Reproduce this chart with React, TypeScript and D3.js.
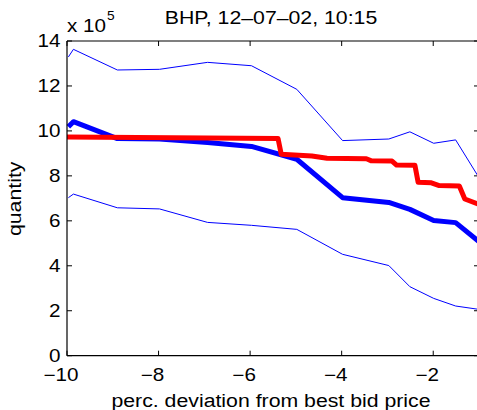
import React from "react";
import * as d3 from "d3";

// Order-book depth profile: quantity vs. percentage deviation from best bid
const devX = [-9.97, -9.86, -8.9, -7.98, -6.93, -5.97, -4.98, -3.98, -2.97, -2.51, -1.99, -1.51, -1.0];
const meanQty = [10.18, 10.41, 9.66, 9.64, 9.48, 9.31, 8.74, 7.03, 6.82, 6.51, 6.01, 5.92, 5.07];
const upperQty = [13.29, 13.63, 12.71, 12.74, 13.05, 12.9, 11.85, 9.57, 9.64, 9.96, 9.45, 9.6, 7.92];
const lowerQty = [7.03, 7.19, 6.58, 6.53, 5.93, 5.8, 5.62, 4.51, 4.01, 3.07, 2.55, 2.21, 2.06];

const snapX = [-10.0, -5.39, -5.32, -4.65, -4.32, -3.46, -3.35, -2.9, -2.8, -2.4, -2.33, -2.04, -1.87, -1.43, -1.31, -1.0];
const snapQty = [9.73, 9.66, 8.96, 8.88, 8.78, 8.76, 8.67, 8.66, 8.48, 8.47, 7.72, 7.69, 7.57, 7.55, 6.97, 6.73];

const xTicks = [-10, -8, -6, -4, -2];
const yTicks = [0, 2, 4, 6, 8, 10, 12, 14];

const W = 477;
const H = 410;
const FONT = "'Liberation Sans', Arial, Helvetica, sans-serif";

export default function App() {
  const x = d3.scaleLinear().domain([-10, -1]).range([67, 479]);
  const y = d3.scaleLinear().domain([0, 14]).range([355.7, 41]);
  const x0 = x(-10);
  const x1 = x(-1);
  const y0 = y(0);
  const y1 = y(14);

  const line = d3
    .line<[number, number]>()
    .x((d) => x(d[0]))
    .y((d) => y(d[1]));

  const pts = (xs: number[], ys: number[]) => xs.map((v, i) => [v, ys[i]] as [number, number]);

  const tickLen = 5;

  return (
    <svg
      width={W}
      height={H}
      style={{ position: "absolute", left: 0, top: 0, background: "#fff" }}
      fontFamily={FONT}
    >
      <rect x={0} y={0} width={W} height={H} fill="#fff" />

      {/* data */}
      <path d={line(pts(devX, upperQty)) || ""} fill="none" stroke="#0000ff" strokeWidth={1} />
      <path d={line(pts(devX, lowerQty)) || ""} fill="none" stroke="#0000ff" strokeWidth={1} />
      <path
        d={line(pts(devX, meanQty)) || ""}
        fill="none"
        stroke="#0000ff"
        strokeWidth={5}
        strokeLinejoin="round"
      />
      <path
        d={line(pts(snapX, snapQty)) || ""}
        fill="none"
        stroke="#ff0000"
        strokeWidth={5}
        strokeLinejoin="round"
      />

      {/* axes box */}
      <g stroke="#000" strokeWidth={1.2} fill="none">
        <line x1={x0} y1={y0} x2={x1} y2={y0} />
        <line x1={x0} y1={y1} x2={x1} y2={y1} />
        <line x1={x0} y1={y0} x2={x0} y2={y1} />
        <line x1={x1} y1={y0} x2={x1} y2={y1} />
      </g>

      {/* x ticks */}
      <g stroke="#000" strokeWidth={1}>
        {xTicks.map((t) => (
          <g key={"xt" + t}>
            <line x1={x(t)} x2={x(t)} y1={y0} y2={y0 - tickLen} />
            <line x1={x(t)} x2={x(t)} y1={y1} y2={y1 + tickLen} />
          </g>
        ))}
        {yTicks.map((t) => (
          <g key={"yt" + t}>
            <line x1={x0} x2={x0 + tickLen} y1={y(t)} y2={y(t)} />
            <line x1={x1} x2={x1 - tickLen} y1={y(t)} y2={y(t)} />
          </g>
        ))}
      </g>

      {/* tick labels */}
      <g fontSize={17.5} fill="#000">
        {xTicks.map((t) => (
          <text
            key={"xl" + t}
            transform={`translate(${x(t) - 6},${380.7}) scale(1.18,1)`}
            textAnchor="middle"
          >
            {"\u2212" + Math.abs(t)}
          </text>
        ))}
        {yTicks.map((t) => (
          <text
            key={"yl" + t}
            transform={`translate(${x0 - 6.5},${y(t) + 6.2}) scale(1.18,1)`}
            textAnchor="end"
          >
            {t}
          </text>
        ))}
      </g>

      {/* exponent */}
      <g fill="#000">
        <text transform={`translate(${x0},31.7) scale(1.18,1)`} fontSize={17.5}>
          x 10
        </text>
        <text transform={`translate(107,20) scale(1.1,1)`} fontSize={12.5}>
          5
        </text>
      </g>

      {/* title */}
      <text
        transform={`translate(${(x0 + x1) / 2 - 2},24) scale(1.12,1)`}
        textAnchor="middle"
        fontSize={19}
        fill="#000"
      >
        BHP, 12–07–02, 10:15
      </text>

      {/* axis labels */}
      <text
        transform={`translate(${(x0 + x1) / 2 - 2},406.5) scale(1.12,1)`}
        textAnchor="middle"
        fontSize={19}
        fill="#000"
      >
        perc. deviation from best bid price
      </text>
      <text
        transform={`translate(21,${198.8}) rotate(-90) scale(1.12,1)`}
        textAnchor="middle"
        fontSize={19}
        fill="#000"
      >
        quantity
      </text>
    </svg>
  );
}
